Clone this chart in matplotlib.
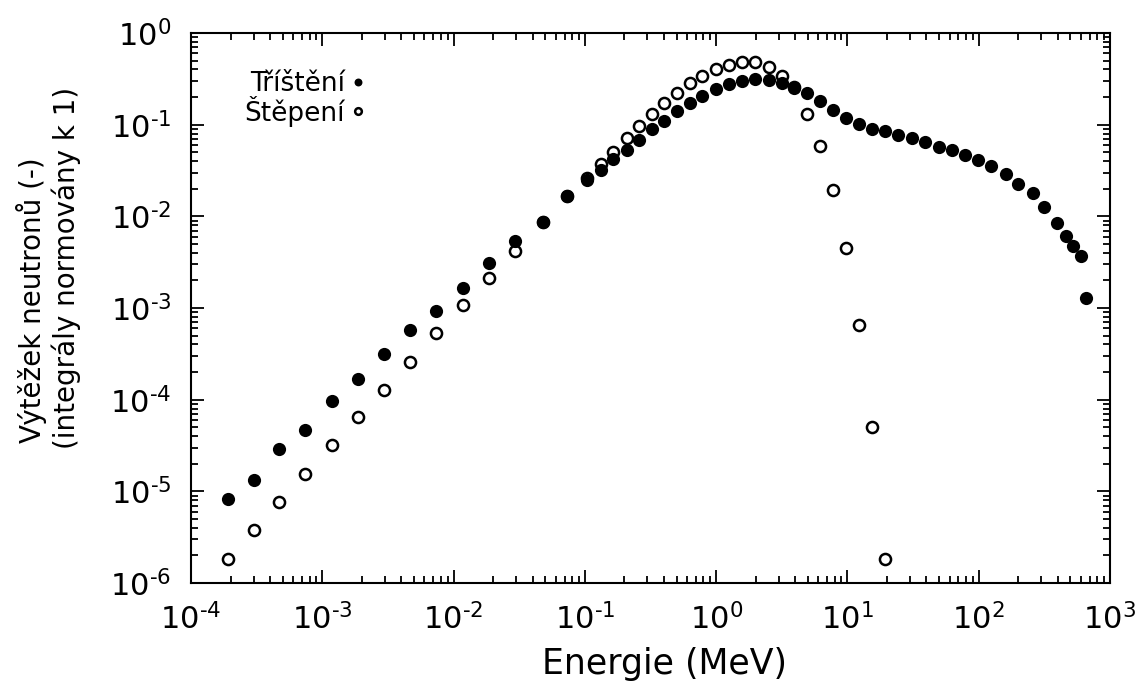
import numpy as np
import matplotlib
matplotlib.use('Agg')
import matplotlib.pyplot as plt
from matplotlib.ticker import LogLocator, NullFormatter, FuncFormatter

# Tříštění (spallation) - filled points
spall_e = [1.9e-4, 3.0e-4, 4.7e-4, 7.4e-4, 1.18e-3, 1.88e-3, 2.96e-3, 4.66e-3, 7.3e-3, 1.17e-2,
           1.87e-2, 2.95e-2, 4.78e-2, 7.3e-2,
           0.104, 0.132, 0.164, 0.209, 0.258, 0.323, 0.403, 0.506, 0.636, 0.787,
           1.00, 1.26, 1.57, 1.99, 2.52, 3.19, 3.94, 4.96, 6.21, 7.82, 9.79,
           12.3, 15.5, 19.4, 24.4, 31.2, 39.2, 49.5, 62.9, 78.9, 99.1,
           124, 160, 199, 258, 316, 396, 459, 525, 600, 655]
spall_y = [8.19e-6, 1.32e-5, 2.87e-5, 4.67e-5, 9.68e-5, 1.68e-4, 3.15e-4, 5.71e-4, 9.27e-4, 1.65e-3,
           3.07e-3, 5.34e-3, 8.61e-3, 1.68e-2,
           2.49e-2, 3.20e-2, 4.22e-2, 5.29e-2, 6.81e-2, 8.90e-2, 0.110, 0.141, 0.171, 0.208,
           0.242, 0.278, 0.302, 0.316, 0.306, 0.287, 0.250, 0.223, 0.181, 0.144, 0.118,
           0.102, 0.0904, 0.0847, 0.0766, 0.0721, 0.0647, 0.0575, 0.0533, 0.0463, 0.0412,
           0.0352, 0.0288, 0.0227, 0.0178, 0.0127, 8.53e-3, 6.06e-3, 4.75e-3, 3.67e-3, 1.30e-3]

# Štěpení (fission) - open points
fiss_e = [1.9e-4, 3.0e-4, 4.7e-4, 7.4e-4, 1.18e-3, 1.88e-3, 2.96e-3, 4.66e-3, 7.3e-3, 1.17e-2,
          1.87e-2, 2.95e-2, 4.78e-2, 7.3e-2,
          0.104, 0.132, 0.164, 0.209, 0.258, 0.323, 0.403, 0.506, 0.636, 0.787,
          1.00, 1.26, 1.57, 1.99, 2.52, 3.19, 3.94, 4.96, 6.21, 7.82, 9.79,
          12.3, 15.5, 19.4]
fiss_y = [1.84e-6, 3.76e-6, 7.71e-6, 1.56e-5, 3.18e-5, 6.43e-5, 1.29e-4, 2.60e-4, 5.34e-4, 1.08e-3,
          2.11e-3, 4.22e-3, 8.6e-3, 1.68e-2,
          2.6e-2, 3.72e-2, 5.07e-2, 7.10e-2, 9.67e-2, 0.131, 0.171, 0.223, 0.283, 0.340,
          0.408, 0.448, 0.479, 0.483, 0.428, 0.340, 0.260, 0.130, 0.0578, 0.0194, 4.55e-3,
          6.53e-4, 5.07e-5, 1.83e-6]

x_ticks = [1e-4, 1e-3, 1e-2, 1e-1, 1e0, 1e1, 1e2, 1e3]
y_ticks = [1e-6, 1e-5, 1e-4, 1e-3, 1e-2, 1e-1, 1e0]

plt.rcParams['font.family'] = ['DejaVu Sans']
plt.rcParams['mathtext.default'] = 'regular'


def pow_label(v, pos):
    # 10^n with a short hyphen like gnuplot
    e = int(round(np.log10(v)))
    return r'$10^{%s}$' % str(e).replace('-', '\u2010')


fig = plt.figure(figsize=(11.41, 6.86), dpi=100)
ax = fig.add_axes([191/1141, 1-583/686, 919/1141, 550/686])

ax.plot(spall_e, spall_y, 'o', color='black', ms=9.5, mew=0, label='Tříštění', zorder=3)
ax.plot(fiss_e, fiss_y, 'o', mfc='none', mec='black', ms=8, mew=1.8, label='Štěpení', zorder=4)

ax.set_xscale('log')
ax.set_yscale('log')

ax.set_xticks(x_ticks)
ax.set_yticks(y_ticks)
ax.xaxis.set_minor_locator(LogLocator(base=10, subs=np.arange(2, 10), numticks=100))
ax.yaxis.set_minor_locator(LogLocator(base=10, subs=np.arange(2, 10), numticks=100))
ax.xaxis.set_major_formatter(FuncFormatter(pow_label))
ax.yaxis.set_major_formatter(FuncFormatter(pow_label))
ax.xaxis.set_minor_formatter(NullFormatter())
ax.yaxis.set_minor_formatter(NullFormatter())
ax.set_xlim(1e-4, 1e3)
ax.set_ylim(1e-6, 1e0)

ax.tick_params(which='both', direction='in', top=True, right=True, width=1.3, colors='black')
ax.tick_params(which='major', length=9.5, labelsize=22)
ax.tick_params(which='minor', length=5)
ax.tick_params(axis='x', which='major', pad=14)
ax.tick_params(axis='y', which='major', pad=14)
for s in ax.spines.values():
    s.set_linewidth(1.5)

fig.text(665/1141, 1-664/686, 'Energie (MeV)', ha='center', va='center', fontsize=25)
fig.text(32/1141, 1-300/686, 'Výtěžek neutronů (-)', rotation=90,
         ha='center', va='center', fontsize=20)
fig.text(66/1141, 1-268/686, '(integrály normovány k 1)', rotation=90,
         ha='center', va='center', fontsize=20)

ax.legend(loc='upper left', bbox_to_anchor=(0.044, 0.955), frameon=False,
          markerfirst=False, fontsize=19, handlelength=0.5, handletextpad=0.25,
          labelspacing=-0.05, borderpad=0, markerscale=0.6)

fig.savefig('out.png', dpi=100)
